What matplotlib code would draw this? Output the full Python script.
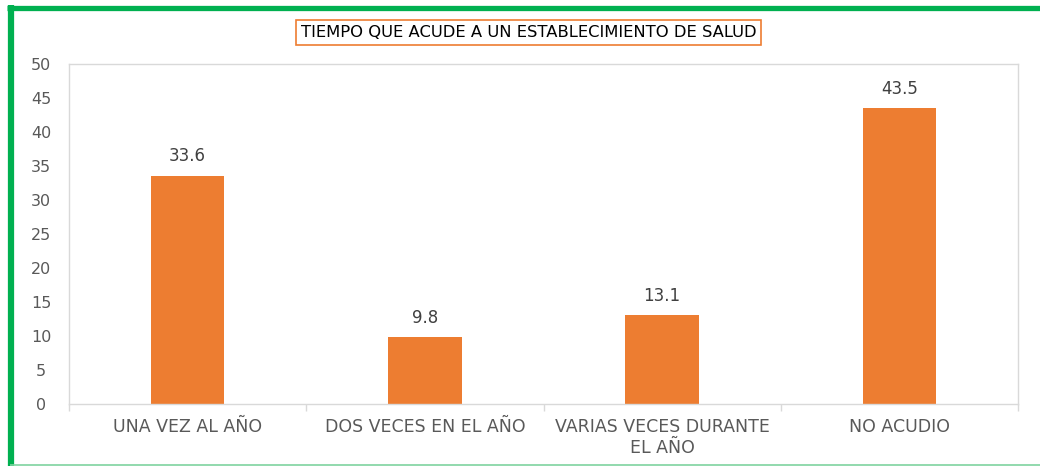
import matplotlib
matplotlib.use("Agg")
import matplotlib.pyplot as plt
from matplotlib.lines import Line2D

categories = ["UNA VEZ AL AÑO", "DOS VECES EN EL AÑO", "VARIAS VECES DURANTE\nEL AÑO", "NO ACUDIO"]
values = [33.6, 9.8, 13.1, 43.5]
yticks = [0, 5, 10, 15, 20, 25, 30, 35, 40, 45, 50]
title = "TIEMPO QUE ACUDE A UN ESTABLECIMIENTO DE SALUD"

plt.rcParams['font.family'] = ['DejaVu Sans']

fig = plt.figure(figsize=(10.4, 4.66), dpi=100)
W, H = 1040, 466

def fx(px):
    return px / W

def fy(py):
    return 1 - py / H

# green frame (top, left strong; bottom light)
fig.add_artist(Line2D([fx(7), fx(1040)], [fy(7.5), fy(7.5)], transform=fig.transFigure,
                      color="#00B050", linewidth=3.8, solid_capstyle="butt"))
fig.add_artist(Line2D([fx(10.5), fx(10.5)], [fy(5), fy(466)], transform=fig.transFigure,
                      color="#00B050", linewidth=4.5, solid_capstyle="butt"))
fig.add_artist(Line2D([fx(10), fx(1040)], [fy(464.5), fy(464.5)], transform=fig.transFigure,
                      color="#7FD3A0", linewidth=1.2, solid_capstyle="butt"))

ax = fig.add_axes([fx(69), fy(404), (1018 - 69) / W, (404 - 64) / H])
x = list(range(len(categories)))
ax.bar(x, values, width=0.31, color="#ED7D31")
ax.set_xlim(-0.5, len(categories) - 0.5)
ax.set_ylim(0, 50)
ax.set_yticks(yticks)
ax.set_yticklabels([str(t) for t in yticks], color="#595959", fontsize=11.5)
ax.set_xticks(x)
ax.set_xticklabels(categories, color="#595959", fontsize=12.5, linespacing=1.25)
ax.tick_params(axis='y', length=0, pad=20)
ax.tick_params(axis='x', length=0, pad=10)
for lbl in ax.get_yticklabels():
    lbl.set_horizontalalignment("center")
# category boundary ticks
ax.set_xticks([i - 0.5 for i in range(len(categories) + 1)], minor=True)
ax.tick_params(axis='x', which='minor', length=5, color="#D9D9D9", width=1)
for s in ax.spines.values():
    s.set_color("#D9D9D9")
    s.set_linewidth(1)

for xi, v in zip(x, values):
    ax.annotate(f"{v}", (xi, v), xytext=(0, 7.5), textcoords="offset points",
                ha="center", va="bottom", fontsize=12, color="#404040")

fig.text(fx(528.5), fy(32.5), title, ha="center", va="center", fontsize=11.8, color="#000000",
         bbox=dict(boxstyle="square,pad=0.28", facecolor="white", edgecolor="#ED7D31", linewidth=1.2))

fig.savefig("out.png", dpi=100)
